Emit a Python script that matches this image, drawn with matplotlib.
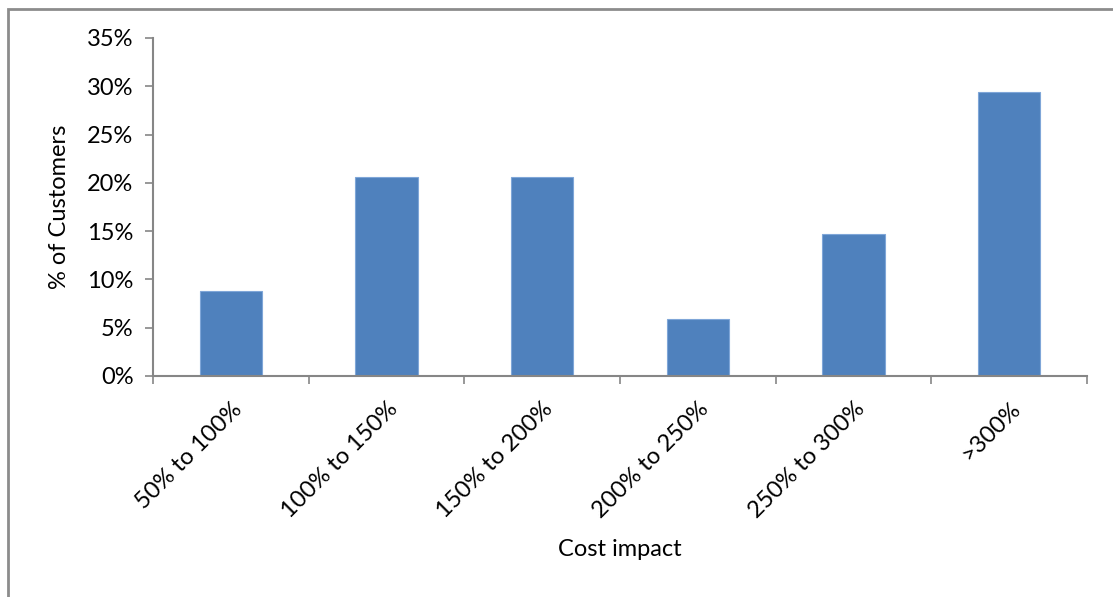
import matplotlib
matplotlib.use("Agg")
import matplotlib.pyplot as plt
from matplotlib.patches import Rectangle
from matplotlib.ticker import MultipleLocator, PercentFormatter

categories = ["50% to 100%", "100% to 150%", "150% to 200%",
              "200% to 250%", "250% to 300%", ">300%"]
customers_pct = [8.82, 20.59, 20.59, 5.88, 14.71, 29.41]

plt.rcParams["font.family"] = ["Lato", "DejaVu Sans"]
FS = 17

W, H = 1113, 597
fig = plt.figure(figsize=(W / 100, H / 100), dpi=100)

# outer chart frame
fig.patches.append(Rectangle((8 / W, -0.1), 1.2, 1 - 9 / H + 0.1,
                             transform=fig.transFigure, fill=False,
                             edgecolor="#8c8c8c", linewidth=2.0))

ax = fig.add_axes([153 / W, 1 - 376 / H, (1087 - 153) / W, (376 - 38) / H])
x = list(range(len(categories)))
ax.bar(x, customers_pct, width=0.4, color="#4F81BD",
       edgecolor="#7fa6d8", linewidth=0.8, zorder=2)

ax.set_xlim(-0.5, len(categories) - 0.5)
ax.set_ylim(0, 35)
ax.yaxis.set_major_locator(MultipleLocator(5))
ax.yaxis.set_major_formatter(PercentFormatter(decimals=0))

ax.set_xticks([i - 0.5 for i in range(len(categories) + 1)])
ax.set_xticklabels([])
ax.set_xticks(x, minor=True)
ax.set_xticklabels(categories, minor=True, rotation=45, ha="right",
                   rotation_mode="anchor", fontsize=FS)
ax.tick_params(axis="x", which="minor", length=0, pad=16)
ax.tick_params(axis="x", which="major", length=6, width=1.2, color="#868686")
ax.tick_params(axis="y", length=6, width=1.2, color="#868686",
               labelsize=FS, pad=8)

for side in ("top", "right"):
    ax.spines[side].set_visible(False)
for side in ("left", "bottom"):
    ax.spines[side].set_color("#868686")
    ax.spines[side].set_linewidth(1.5)

fig.text(60 / W, 1 - 207 / H, "% of Customers", rotation=90,
         ha="center", va="center", fontsize=FS)
fig.text(620 / W, 1 - 550 / H, "Cost impact", ha="center", va="center",
         fontsize=FS)

fig.savefig("out.png", dpi=100)
